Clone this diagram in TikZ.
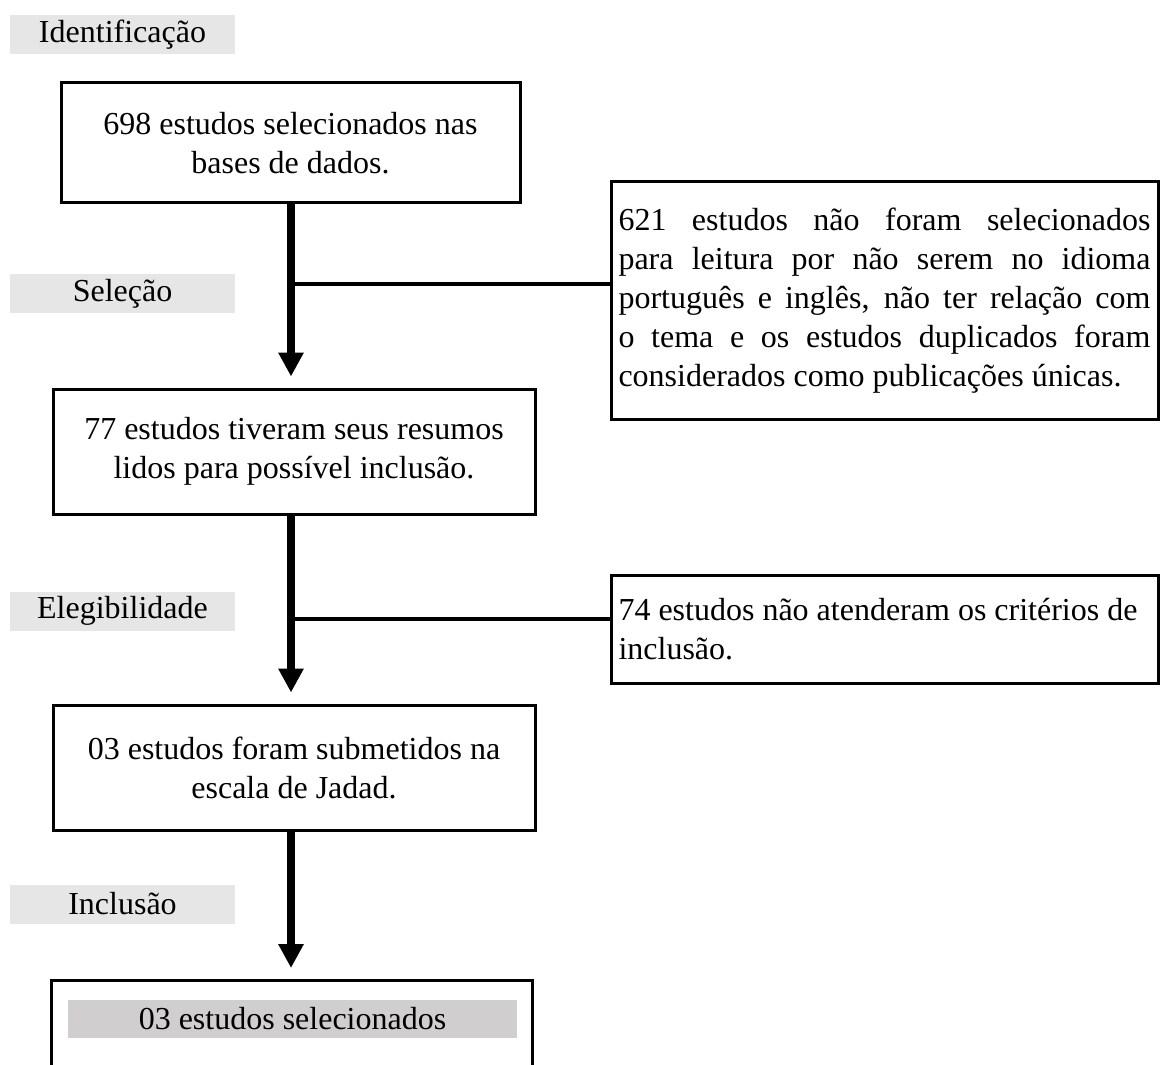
\documentclass[tikz,border=0pt]{standalone}
\usepackage{fontspec}
\setmainfont{Liberation Serif}
\usetikzlibrary{arrows.meta}
\definecolor{stagegray}{HTML}{E6E6E6}
\definecolor{resultgray}{HTML}{D0CECE}
\begin{document}
\begin{tikzpicture}[x=0.5pt,y=-0.5pt,font=\fontsize{16}{19.5}\selectfont,
  stage/.style={fill=stagegray,minimum width=112.5pt,minimum height=19.5pt,inner sep=0pt},
  box/.style={draw,line width=1.5pt,align=center,inner sep=0pt},
  flow/.style={line width=4pt,-{Triangle[width=12pt,length=12pt]},shorten >=5.5pt},
  link/.style={line width=2.2pt}]
\useasboundingbox (0,0) rectangle (1160,1064);
\clip (0,0) rectangle (1160,1064);

\node[stage] (ident) at (122.5,34.5) {Identificação};
\node[stage] (selecao) at (122.5,293.5) {Seleção};
\node[stage] (eleg) at (122.5,611) {Elegibilidade};
\node[stage] (incl) at (122.5,904) {Inclusão};

\node[box,minimum width=229.5pt,minimum height=60pt] (b698) at (290.5,143) {698 estudos selecionados nas\\bases de dados.};
\node[box,minimum width=241pt,minimum height=62.5pt] (b77) at (294,451.5) {77 estudos tiveram seus resumos\\lidos para possível inclusão.};
\node[box,minimum width=241pt,minimum height=62.5pt] (b03) at (294,767.5) {03 estudos foram submetidos na\\escala de Jadad.};
\node[box,minimum width=240.5pt,minimum height=69.5pt] (bfim) at (291.5,1050) {};
\node[fill=resultgray,minimum width=224.5pt,minimum height=19pt,inner sep=0pt] (res) at (292.5,1019) {03 estudos selecionados};

\node[box,minimum width=273.5pt,minimum height=118.5pt,text width=266pt,align=justify] (excl621) at (884.5,300.5)
  {621 estudos não foram selecionados\linebreak para leitura por não serem no idioma\linebreak português e inglês, não ter relação com\linebreak o tema e os estudos duplicados foram\linebreak considerados como publicações únicas.};
\node[box,minimum width=273.5pt,minimum height=54pt,text width=266pt,align=flush left] (excl74) at (884.5,629)
  {74 estudos não atenderam os critérios de\\inclusão.};

\coordinate (jA) at (291,284);
\coordinate (jB) at (291,619);

\path[draw,flow] (b698.south -| jA) -- (b77.north -| jA);
\path[draw,flow] (b77.south -| jA) -- (b03.north -| jA);
\path[draw,flow] (b03.south -| jA) -- (bfim.north -| jA);
\path[draw,link] (jA) -- (jA -| excl621.west);
\path[draw,link] (jB) -- (jB -| excl74.west);
\end{tikzpicture}
\end{document}
